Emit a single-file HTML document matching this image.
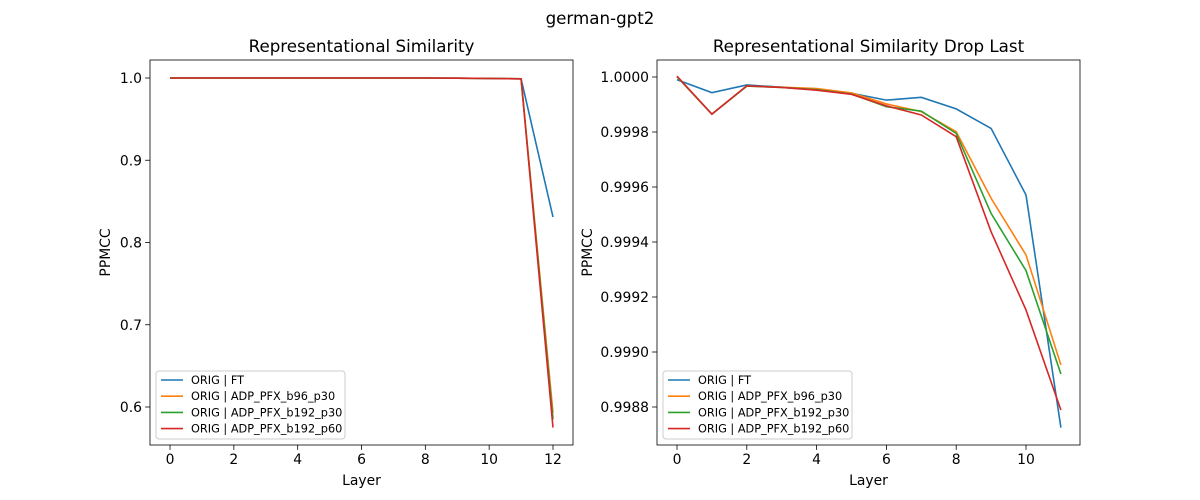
<!DOCTYPE html>
<html><head><meta charset="utf-8"><style>
body{margin:0;background:#fff;}
svg{display:block;font-family:"DejaVu Sans","Liberation Sans",sans-serif;}
</style></head><body>
<svg id="chart" width="1200" height="500">
<text x="600" y="24" text-anchor="middle" font-size="16.7">german-gpt2</text>
</svg>
<script>
const layersLeft=[0,1,2,3,4,5,6,7,8,9,10,11,12];
const leftFT=[1.0,1.0,1.0,1.0,1.0,1.0,1.0,1.0,1.0,0.9998,0.9995,0.999,0.831];
const leftB96=[1.0,1.0,1.0,1.0,1.0,1.0,1.0,1.0,1.0,0.9998,0.9995,0.999,0.593];
const leftB192=[1.0,1.0,1.0,1.0,1.0,1.0,1.0,1.0,1.0,0.9998,0.9995,0.999,0.585];
const leftB192p60=[1.0,1.0,1.0,1.0,1.0,1.0,1.0,1.0,1.0,0.9998,0.9995,0.999,0.575];
const layersRight=[0,1,2,3,4,5,6,7,8,9,10,11];
const rightFT=[0.99999,0.999943,0.999971,0.999963,0.999954,0.999941,0.999916,0.999926,0.999884,0.999813,0.999571,0.998725];
const rightB96=[1.000001,0.999865,0.999967,0.999963,0.999958,0.999942,0.999902,0.999874,0.999801,0.999559,0.999353,0.998953];
const rightB192=[1.000001,0.999865,0.999967,0.999962,0.999954,0.999938,0.999892,0.999876,0.999795,0.999504,0.999296,0.99892];
const rightB192p60=[1.000003,0.999865,0.999968,0.999962,0.999952,0.999937,0.999895,0.999862,0.999783,0.999437,0.999153,0.998789];
const leftXTicks=[0,2,4,6,8,10,12];
const leftYTicks=[0.6,0.7,0.8,0.9,1.0];
const rightXTicks=[0,2,4,6,8,10];
const rightYTicks=[0.9988,0.999,0.9992,0.9994,0.9996,0.9998,1.0];
const seriesNames=["ORIG | FT","ORIG | ADP_PFX_b96_p30","ORIG | ADP_PFX_b192_p30","ORIG | ADP_PFX_b192_p60"];
const colors=["#1f77b4","#ff7f0e","#2ca02c","#d62728"];

const svg=document.getElementById('chart');
const NS="http://www.w3.org/2000/svg";
function mk(tag,attrs,parent){const e=document.createElementNS(NS,tag);for(const k in attrs)e.setAttribute(k,attrs[k]);(parent||svg).appendChild(e);return e;}

function panel(p){
  const g=mk('g',{});
  
  
  const xs=v=>p.x0+(v-p.xmin)/(p.xmax-p.xmin)*(p.x1-p.x0);
  const ys=v=>p.y0+(p.ymax-v)/(p.ymax-p.ymin)*(p.y1-p.y0);
  p.xt.forEach(t=>{const X=xs(t);
    mk('line',{x1:X,x2:X,y1:p.y1,y2:p.y1+4.9,stroke:'#000','stroke-width':0.8},g);
    const tx=mk('text',{x:X,y:p.y1+19,'text-anchor':'middle','font-size':13.9},g);tx.textContent=t;
    });
  p.yt.forEach(t=>{const Y=ys(t);
    mk('line',{x1:p.x0-4.9,x2:p.x0,y1:Y,y2:Y,stroke:'#000','stroke-width':0.8},g);
    const tx=mk('text',{x:p.x0-8,y:Y+5,'text-anchor':'end','font-size':13.9},g);tx.textContent=t.toFixed(p.dec);
    });
  p.series.forEach((s,i)=>{
    const pts=s.map((v,j)=>xs(p.xs[j]).toFixed(2)+','+ys(v).toFixed(2)).join(' ');
    const l=mk('polyline',{points:pts,fill:'none',stroke:colors[i],'stroke-width':1.6},g);
    
    
  });
  mk('rect',{x:p.x0,y:p.y0,width:p.x1-p.x0,height:p.y1-p.y0,fill:'none',stroke:'#000','stroke-width':0.8},g);
  const t=mk('text',{x:(p.x0+p.x1)/2,y:p.y0-8,'text-anchor':'middle','font-size':16.7},g);t.textContent=p.title;
  
  const xl=mk('text',{x:(p.x0+p.x1)/2,y:p.y1+40,'text-anchor':'middle','font-size':13.9},g);xl.textContent='Layer';
  
  const yl=mk('text',{x:0,y:0,'text-anchor':'middle','font-size':13.9,transform:`translate(${p.ylx},${(p.y0+p.y1)/2}) rotate(-90)`},g);yl.textContent='PPMCC';
  
  const lg=mk('g',{},g);
  
  const lx=p.x0+6,ly=p.y1-74;
  mk('rect',{x:lx,y:ly,width:189,height:68,rx:3,fill:'#fff',stroke:'#ccc','stroke-width':1},lg);
  seriesNames.forEach((n,i)=>{const Y=ly+9+i*16.2;
    mk('line',{x1:lx+5,x2:lx+27,y1:Y,y2:Y,stroke:colors[i],'stroke-width':1.6},lg);
    const e=mk('text',{x:lx+35,y:Y+4,'font-size':11.3},lg);e.textContent=n;
    });
}
panel({id:'left',title:'Representational Similarity',x0:150,x1:573,y0:60,y1:445,xmin:-0.6275,xmax:12.627,ymin:1.0-(445-78)/822.5,ymax:1.0+(18/822.5),
  xt:leftXTicks,yt:leftYTicks,dec:1,xs:layersLeft,series:[leftFT,leftB96,leftB192,leftB192p60],ylx:110});
panel({id:'right',title:'Representational Similarity Drop Last',x0:657,x1:1080,y0:60,y1:445,xmin:(657-677)/34.9,xmax:(1080-677)/34.9,ymin:1.0-(445-77)/55*0.0002,ymax:1.0+(17/55)*0.0002,
  xt:rightXTicks,yt:rightYTicks,dec:4,xs:layersRight,series:[rightFT,rightB96,rightB192,rightB192p60],ylx:592});
</script>
</body></html>
